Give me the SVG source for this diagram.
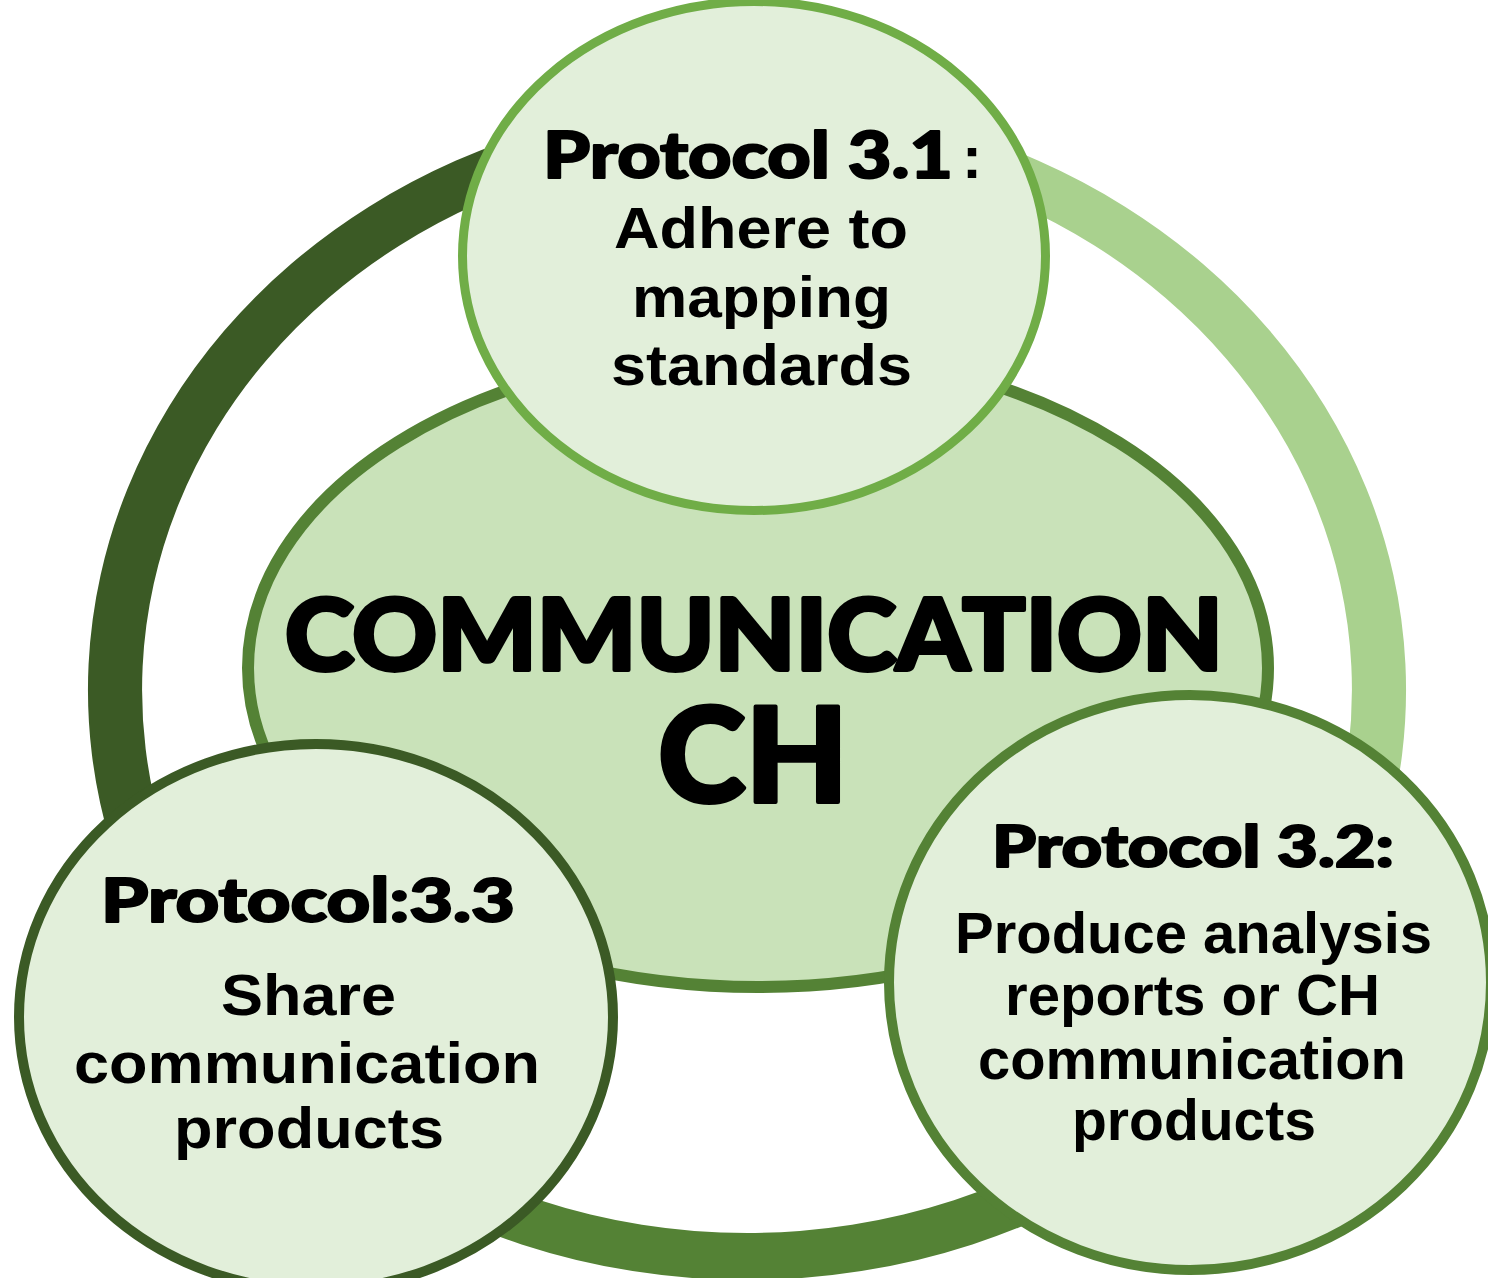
<svg xmlns="http://www.w3.org/2000/svg" width="1488" height="1278" viewBox="0 0 1488 1278">
<style>
.blk{font-family:"Lato","Roboto","Liberation Sans",sans-serif;font-weight:900;fill:#000;text-anchor:middle;stroke:#000;stroke-width:2;stroke-linejoin:round}
.big{stroke-width:4}
.bd{font-family:"Liberation Sans","Arial",sans-serif;font-weight:bold;fill:#000;text-anchor:middle}
.node{fill:#E2EFDA}
</style>
<rect width="1488" height="1278" fill="#FFFFFF"/>
<g id="connectors">
<path d="M323.4,1142 A659,590 0 0 1 747,100 L747,147 A605,543 0 0 0 358.1,1105.9 Z" fill="#3B5A25"/>
<path d="M747,100 A659,590 0 0 1 1170.6,1142 L1135.9,1105.9 A605,543 0 0 0 747,147 Z" fill="#A9D18E"/>
<path d="M1170.6,1142 A659,590 0 0 1 323.4,1142 L358.1,1105.9 A605,543 0 0 0 1135.9,1105.9 Z" fill="#548235"/>
</g>
<g id="center">
<ellipse cx="758" cy="668" rx="510" ry="319" fill="#C9E2B9" stroke="#548235" stroke-width="12"/>
<text class="blk big" x="754" y="670" font-size="100" textLength="938" lengthAdjust="spacingAndGlyphs">COMMUNICATION</text>
<text class="blk big" x="753" y="802" font-size="132" textLength="190" lengthAdjust="spacingAndGlyphs">CH</text>
</g>
<g id="protocol-3-1">
<ellipse class="node" cx="754" cy="256" rx="291.5" ry="254.5" stroke="#70AD47" stroke-width="9"/>
<text class="blk" x="748" y="178" font-size="64" textLength="410" lengthAdjust="spacingAndGlyphs">Protocol 3.1</text>
<text class="bd" x="972" y="178" font-size="60">:</text>
<text class="bd" x="761" y="248" font-size="58" textLength="294" lengthAdjust="spacingAndGlyphs">Adhere to</text>
<text class="bd" x="761.5" y="317" font-size="58" textLength="259" lengthAdjust="spacingAndGlyphs">mapping</text>
<text class="bd" x="761.5" y="385" font-size="58" textLength="301" lengthAdjust="spacingAndGlyphs">standards</text>
</g>
<g id="protocol-3-3">
<ellipse class="node" cx="316" cy="1017" rx="297" ry="273" stroke="#3B5A25" stroke-width="10"/>
<text class="blk" x="308" y="922" font-size="61" textLength="414" lengthAdjust="spacingAndGlyphs">Protocol:3.3</text>
<text class="bd" x="308.5" y="1015" font-size="58" textLength="175" lengthAdjust="spacingAndGlyphs">Share</text>
<text class="bd" x="307" y="1083" font-size="58" textLength="466" lengthAdjust="spacingAndGlyphs">communication</text>
<text class="bd" x="309" y="1148" font-size="58" textLength="270" lengthAdjust="spacingAndGlyphs">products</text>
</g>
<g id="protocol-3-2">
<ellipse class="node" cx="1190" cy="982.5" rx="301" ry="287.5" stroke="#548235" stroke-width="10"/>
<text class="blk" x="1193" y="867" font-size="58" textLength="402" lengthAdjust="spacingAndGlyphs">Protocol 3.2:</text>
<text class="bd" x="1193.5" y="953" font-size="57" textLength="477" lengthAdjust="spacingAndGlyphs">Produce analysis</text>
<text class="bd" x="1192.5" y="1015" font-size="57" textLength="375" lengthAdjust="spacingAndGlyphs">reports or CH</text>
<text class="bd" x="1192" y="1079" font-size="57" textLength="428" lengthAdjust="spacingAndGlyphs">communication</text>
<text class="bd" x="1194" y="1140" font-size="57" textLength="244" lengthAdjust="spacingAndGlyphs">products</text>
</g>
</svg>
